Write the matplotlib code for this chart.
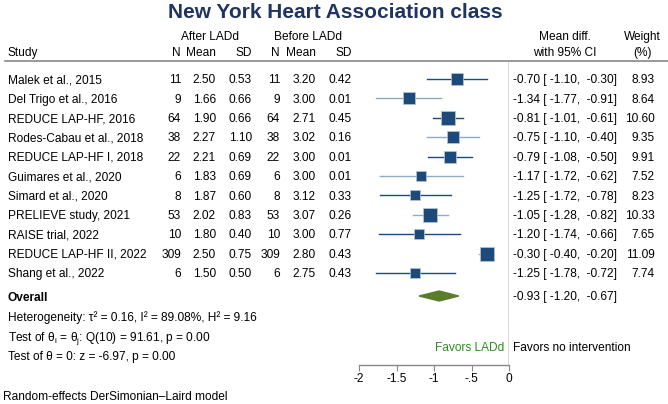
import numpy as np
import matplotlib.pyplot as plt
from matplotlib import transforms
from matplotlib.patches import Polygon

plt.rcParams['font.family'] = ['Liberation Sans', 'DejaVu Sans']
plt.rcParams['mathtext.fontset'] = 'custom'
plt.rcParams['mathtext.rm'] = 'Liberation Sans'

# data
studies = ['Malek et al., 2015', 'Del Trigo et al., 2016', 'REDUCE LAP-HF, 2016',
           'Rodes-Cabau et al., 2018', 'REDUCE LAP-HF I, 2018', 'Guimares et al., 2020',
           'Simard et al., 2020', 'PRELIEVE study, 2021', 'RAISE trial, 2022',
           'REDUCE LAP-HF II, 2022', 'Shang et al., 2022']
n_after = [11, 9, 64, 38, 22, 6, 8, 53, 10, 309, 6]
mean_after = [2.50, 1.66, 1.90, 2.27, 2.21, 1.83, 1.87, 2.02, 1.80, 2.50, 1.50]
sd_after = [0.53, 0.66, 0.66, 1.10, 0.69, 0.69, 0.60, 0.83, 0.40, 0.75, 0.50]
n_before = [11, 9, 64, 38, 22, 6, 8, 53, 10, 309, 6]
mean_before = [3.20, 3.00, 2.71, 3.02, 3.00, 3.00, 3.12, 3.07, 3.00, 2.80, 2.75]
sd_before = [0.42, 0.01, 0.45, 0.16, 0.01, 0.01, 0.33, 0.26, 0.77, 0.43, 0.43]
md = [-0.70, -1.34, -0.81, -0.75, -0.79, -1.17, -1.25, -1.05, -1.20, -0.30, -1.25]
ci_lo = [-1.10, -1.77, -1.01, -1.10, -1.08, -1.72, -1.72, -1.28, -1.74, -0.40, -1.78]
ci_hi = [-0.30, -0.91, -0.61, -0.40, -0.50, -0.62, -0.78, -0.82, -0.66, -0.20, -0.72]
weight = [8.93, 8.64, 10.60, 9.35, 9.91, 7.52, 8.23, 10.33, 7.65, 11.09, 7.74]
overall = (-0.93, -1.20, -0.67)
xticks = [-2, -1.5, -1, -0.5, 0]
xticklabels = ['-2', '-1.5', '-1', '-.5', '0']

navy = '#1d4a7a'
light = '#8eaac6'
title_col = '#1f3461'
green = '#5a7d2c'
fs = 8.6

W, H = 668, 404
fig = plt.figure(figsize=(W / 100, H / 100), dpi=100)

# row r sits at pixel y = 79 + 19.4*r
def row(py):
    return (py - 79) / 19.4

ax_top, ax_bot = 62, 365
ax = fig.add_axes([359 / W, (H - ax_bot) / H, 150 / W, (ax_bot - ax_top) / H])
ax.set_xlim(-2, 0)
ax.set_ylim(row(ax_bot), row(ax_top))
for s in ['top', 'right', 'left']:
    ax.spines[s].set_visible(False)
ax.spines['bottom'].set_color('#888888')
ax.spines['bottom'].set_linewidth(1)
ax.set_yticks([])
ax.set_xticks(xticks)
ax.set_xticklabels(xticklabels, fontsize=fs)
ax.tick_params(axis='x', length=4, color='#888888', pad=2)
ax.patch.set_alpha(0)

ax.axvline(0, color='#cccccc', lw=1.8, zorder=0)

for i in range(len(studies)):
    c = navy if i % 2 == 0 else light
    ax.plot([ci_lo[i], ci_hi[i]], [i, i], color=c, lw=1)
    ax.plot(md[i], i, marker='s', ms=weight[i] * 0.92, color=navy, mec='#b8c8d8', mew=0.5)

ov_y = row(296)
dh = 5 / 19.4
ax.add_patch(Polygon([[overall[1], ov_y], [overall[0], ov_y - dh], [overall[2], ov_y],
                      [overall[0], ov_y + dh]], closed=True, color=green))

tr = transforms.blended_transform_factory(fig.transFigure, ax.transData)
base = 4.2 / 19.4  # half cap height, from text centre to baseline

def put(px, r, s, ha='left', **kw):
    ax.text(px / W, r + base, s, transform=tr, ha=ha, va='baseline', fontsize=fs,
            clip_on=False, **kw)

# headers
put(210, row(36), 'After LADd', ha='center')
put(308, row(36), 'Before LADd', ha='center')
put(565, row(36), 'Mean diff.', ha='center')
put(642, row(36), 'Weight', ha='center')
put(8, row(52), 'Study')
for px, s in [(181, 'N'), (216, 'Mean'), (252, 'SD'), (280, 'N'), (316, 'Mean'), (352, 'SD')]:
    put(px, row(52), s, ha='right')
put(565, row(52), 'with 95% CI', ha='center')
put(642, row(52), '(%)', ha='center')
fig.add_artist(plt.Line2D([5 / W, 1], [(H - 61) / H] * 2, color='#888888', lw=1.2))

for i in range(len(studies)):
    put(8, i, studies[i])
    put(181, i, str(n_after[i]), ha='right')
    put(216, i, f'{mean_after[i]:.2f}', ha='right')
    put(252, i, f'{sd_after[i]:.2f}', ha='right')
    put(280, i, str(n_before[i]), ha='right')
    put(316, i, f'{mean_before[i]:.2f}', ha='right')
    put(352, i, f'{sd_before[i]:.2f}', ha='right')
    put(513, i, f'{md[i]:.2f} [ {ci_lo[i]:.2f},  {ci_hi[i]:.2f}]')
    put(655, i, f'{weight[i]:.2f}', ha='right')

put(8, row(297), 'Overall', fontweight='bold')
put(513, ov_y, f'{overall[0]:.2f} [ {overall[1]:.2f},  {overall[2]:.2f}]')
put(8, row(317), 'Heterogeneity: τ² = 0.16, I² = 89.08%, H² = 9.16')
put(8, row(337), 'Test of θ$_\\mathregular{i}$ = θ$_\\mathregular{j}$: Q(10) = 91.61, p = 0.00')
put(8, row(356), 'Test of θ = 0: z = -6.97, p = 0.00')
put(504, row(347), 'Favors LADd', ha='right', color='#2e8b1e')
put(513, row(347), 'Favors no intervention')

fig.text(3 / W, (H - 400) / H, 'Random-effects DerSimonian–Laird model', fontsize=fs,
         va='baseline')
fig.text(335 / W, (H - 13) / H, 'New York Heart Association class', fontsize=15,
         fontweight='bold', color=title_col, ha='center', va='center')

fig.savefig('out.png', dpi=100)
